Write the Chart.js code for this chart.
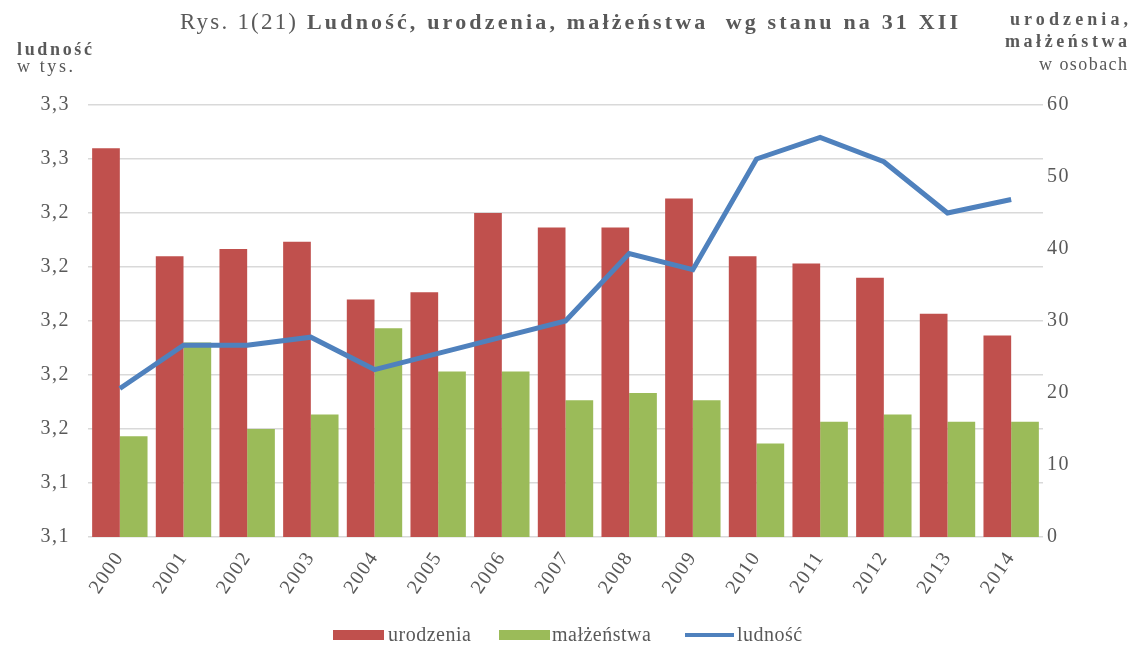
<!DOCTYPE html>
<html>
<head>
<meta charset="utf-8">
<script src="https://cdn.jsdelivr.net/npm/chart.js@4/dist/chart.umd.min.js"></script>
<style>
  html, body { margin: 0; padding: 0; background: #fff; }
  #wrap { width: 1147px; height: 646px; position: relative; }
</style>
</head>
<body>
<div id="wrap"><canvas id="wykres"></canvas></div>
<script>
// --- dane ---
const lata = ["2000", "2001", "2002", "2003", "2004", "2005", "2006", "2007", "2008", "2009", "2010", "2011", "2012", "2013", "2014"];
const urodzenia = [54, 39, 40, 41, 33, 34, 45, 43, 43, 47, 39, 38, 36, 31, 28];
const malzenstwa = [14, 27, 15, 17, 29, 23, 23, 19, 20, 19, 13, 16, 17, 16, 16];
const ludnosc = [3.175, 3.191, 3.191, 3.194, 3.182, 3.188, 3.194, 3.200, 3.225, 3.219, 3.260, 3.268, 3.259, 3.240, 3.245];

const lewaMin = 3.12, lewaMax = 3.28, lewaKrok = 0.02;
const prawaMin = 0, prawaMax = 60, prawaKrok = 10;

const SZARY = "#595959";
const CZCIONKA = '"Liberation Serif", "Times New Roman", serif';

// odstęp liter jak w oryginale
const odstepLiter = {
  id: "odstepLiter",
  beforeUpdate(chart) { chart.ctx.letterSpacing = "1.5px"; },
  beforeDraw(chart) { chart.ctx.letterSpacing = "1.5px"; }
};

// napis rozstrzelony do zadanej szerokości
function napis(ctx, txt, x, y, font, szer, wyrownanie) {
  ctx.save();
  ctx.font = font;
  ctx.letterSpacing = "0px";
  const w = ctx.measureText(txt).width;
  const ls = Math.max(0, (szer - w) / (txt.length - 1));
  ctx.letterSpacing = ls + "px";
  const x0 = wyrownanie === "right" ? x - szer : x;
  ctx.textAlign = "left";
  ctx.fillText(txt, x0, y);
  ctx.restore();
}

// tytuł, opisy osi i legenda
const napisy = {
  id: "napisy",
  afterDraw(chart) {
    const ctx = chart.ctx;
    ctx.save();
    ctx.fillStyle = SZARY;
    ctx.textBaseline = "alphabetic";

    // tytuł
    napis(ctx, "Rys. 1(21)", 180, 29, "23px " + CZCIONKA, 116);
    napis(ctx, "Ludność, urodzenia, małżeństwa  wg stanu na 31 XII", 307, 29, "bold 22px " + CZCIONKA, 651);

    // lewa oś
    napis(ctx, "ludność", 17, 55, "bold 18px " + CZCIONKA, 75);
    napis(ctx, "w tys.", 17, 72, "18px " + CZCIONKA, 56);

    // prawa oś
    napis(ctx, "urodzenia,", 1128, 25, "bold 18px " + CZCIONKA, 118, "right");
    napis(ctx, "małżeństwa", 1127, 47, "bold 18px " + CZCIONKA, 122, "right");
    napis(ctx, "w osobach", 1127, 70, "18px " + CZCIONKA, 88, "right");

    // legenda
    ctx.textAlign = "left";
    ctx.letterSpacing = "0.5px";
    ctx.font = "20px " + CZCIONKA;
    const ds = chart.data.datasets;
    const pozycje = [
      { i: 0, x: 333, tekst: 388 },
      { i: 1, x: 499, tekst: 552 },
      { i: 2, x: 685, tekst: 737 }
    ];
    pozycje.forEach(p => {
      const d = ds[p.i];
      if (d.type === "line") {
        ctx.fillStyle = d.borderColor;
        ctx.fillRect(p.x, 633, 49, 4);
      } else {
        ctx.fillStyle = d.backgroundColor;
        ctx.fillRect(p.x, 630, 51, 10);
      }
      ctx.fillStyle = SZARY;
      ctx.fillText(d.label, p.tekst, 641);
    });
    ctx.restore();
  }
};

const ctx = document.getElementById("wykres").getContext("2d");
new Chart(ctx, {
  type: "bar",
  data: {
    labels: lata,
    datasets: [
      {
        label: "urodzenia",
        data: urodzenia,
        backgroundColor: "#C0504D",
        yAxisID: "yPrawa",
        barPercentage: 1,
        categoryPercentage: 0.87,
        order: 2
      },
      {
        label: "małżeństwa",
        data: malzenstwa,
        backgroundColor: "#9BBB59",
        yAxisID: "yPrawa",
        barPercentage: 1,
        categoryPercentage: 0.87,
        order: 2
      },
      {
        label: "ludność",
        type: "line",
        data: ludnosc,
        borderColor: "#4F81BD",
        backgroundColor: "#4F81BD",
        borderWidth: 5,
        pointRadius: 0,
        tension: 0,
        borderJoinStyle: "miter",
        yAxisID: "yLewa",
        order: 1
      }
    ]
  },
  options: {
    responsive: true,
    maintainAspectRatio: false,
    animation: false,
    layout: { padding: { top: 105, left: 0, right: 0, bottom: 0 } },
    plugins: {
      legend: { display: false },
      title: { display: false },
      tooltip: { enabled: false }
    },
    scales: {
      x: {
        grid: { display: false },
        border: { display: false },
        ticks: {
          color: SZARY,
          font: { family: CZCIONKA, size: 20 },
          minRotation: 56,
          maxRotation: 56,
          padding: 2
        },
        afterFit: s => { s.height = 109; }
      },
      yLewa: {
        position: "left",
        min: lewaMin,
        max: lewaMax,
        afterBuildTicks: s => {
          const t = [];
          for (let k = 0; k <= Math.round((lewaMax - lewaMin) / lewaKrok); k++) {
            t.push({ value: +(lewaMin + k * lewaKrok).toFixed(2) });
          }
          s.ticks = t;
        },
        grid: { color: "#D9D9D9", lineWidth: 1.5, drawTicks: false },
        border: { display: false },
        ticks: {
          color: SZARY,
          font: { family: CZCIONKA, size: 20 },
          padding: 18,
          callback: v => v.toFixed(1).replace(".", ",")
        },
        afterFit: s => { s.width = 88; }
      },
      yPrawa: {
        position: "right",
        min: prawaMin,
        max: prawaMax,
        grid: { display: false, drawTicks: false },
        border: { display: false },
        ticks: {
          stepSize: prawaKrok,
          color: SZARY,
          font: { family: CZCIONKA, size: 20 },
          padding: 4
        },
        afterFit: s => { s.width = 104; }
      }
    }
  },
  plugins: [odstepLiter, napisy]
});
</script>
</body>
</html>
